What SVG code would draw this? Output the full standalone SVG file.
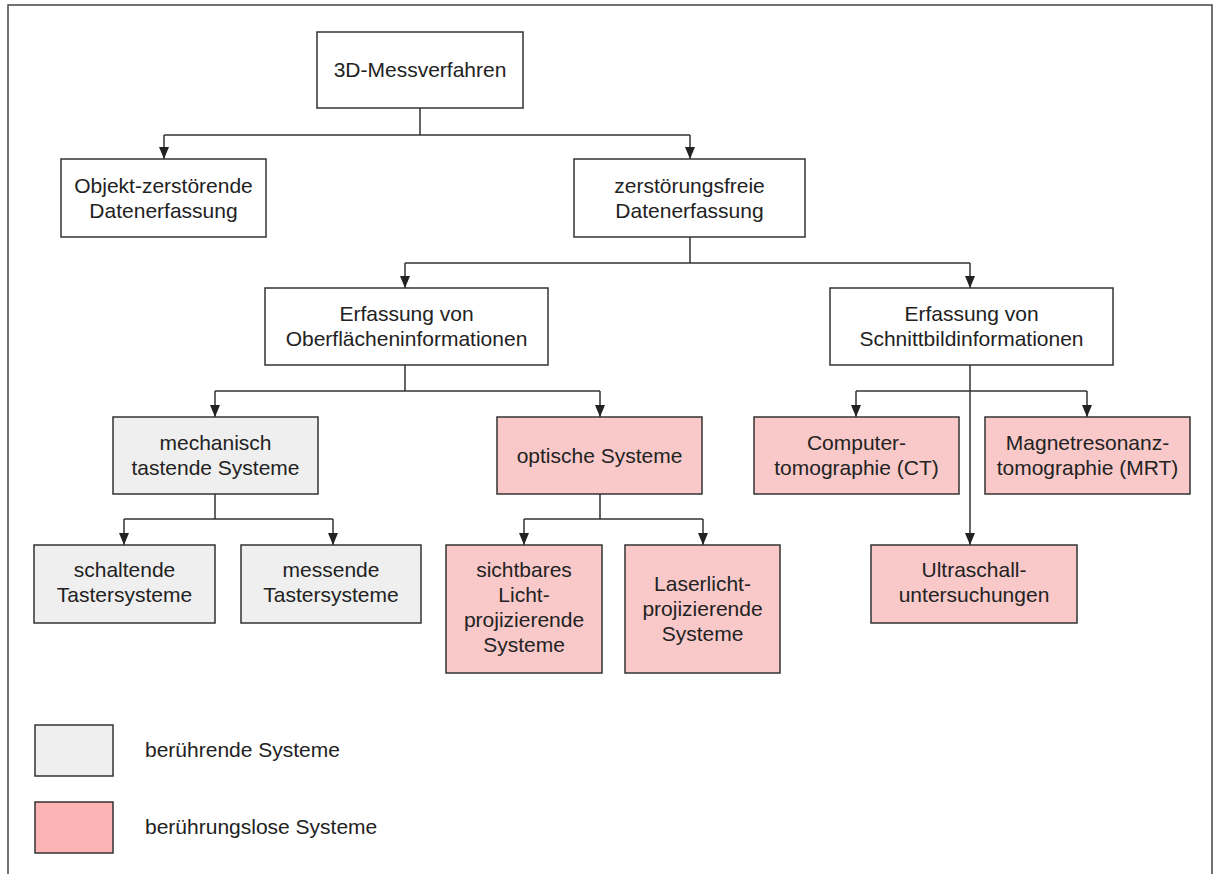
<svg xmlns="http://www.w3.org/2000/svg" width="1213" height="874" viewBox="0 0 1213 874">
<defs>
<style>
.box{stroke:#333;stroke-width:1.5}
.w{fill:#ffffff}
.g{fill:#efefef}
.p{fill:#f9c9c9}
.lp{fill:#fcb4b4}
text{font-family:"Liberation Sans",Arial,sans-serif;font-size:21px;fill:#222;text-anchor:middle}
.lt{text-anchor:start}
.c{fill:none;stroke:#333;stroke-width:1.5}
</style>
<marker id="ah" markerUnits="userSpaceOnUse" markerWidth="12" markerHeight="11" refX="12" refY="5.5" orient="auto">
<path d="M0,0.5 L12,5.5 L0,10.5 z" fill="#222"/>
</marker>
</defs>
<rect width="1213" height="874" fill="#ffffff"/>
<rect x="8" y="5" width="1204" height="880" fill="none" stroke="#444" stroke-width="1.5"/>

<g id="connectors">
<path class="c" d="M420,108 V135 M164,135 H690"/>
<path class="c" d="M164,135 V159" marker-end="url(#ah)"/>
<path class="c" d="M690,135 V159" marker-end="url(#ah)"/>
<path class="c" d="M690,237 V263 M405,263 H970"/>
<path class="c" d="M405,263 V288" marker-end="url(#ah)"/>
<path class="c" d="M970,263 V288" marker-end="url(#ah)"/>
<path class="c" d="M405,365 V391 M215,391 H600"/>
<path class="c" d="M215,391 V417" marker-end="url(#ah)"/>
<path class="c" d="M600,391 V417" marker-end="url(#ah)"/>
<path class="c" d="M970,365 V545" marker-end="url(#ah)"/>
<path class="c" d="M856,391 H1087"/>
<path class="c" d="M856,391 V417" marker-end="url(#ah)"/>
<path class="c" d="M1087,391 V417" marker-end="url(#ah)"/>
<path class="c" d="M215,494 V519 M124,519 H333"/>
<path class="c" d="M124,519 V545" marker-end="url(#ah)"/>
<path class="c" d="M333,519 V545" marker-end="url(#ah)"/>
<path class="c" d="M600,494 V519 M524,519 H703"/>
<path class="c" d="M524,519 V545" marker-end="url(#ah)"/>
<path class="c" d="M703,519 V545" marker-end="url(#ah)"/>
</g>

<g id="n-3d">
<rect class="box w" x="317" y="32" width="206" height="76"/>
<text x="420" y="77">3D-Messverfahren</text>
</g>
<g id="n-objekt">
<rect class="box w" x="61" y="159" width="205" height="78"/>
<text x="163.5" y="193">Objekt-zerstörende</text>
<text x="163.5" y="218">Datenerfassung</text>
</g>
<g id="n-zfrei">
<rect class="box w" x="574" y="159" width="231" height="78"/>
<text x="689.5" y="193">zerstörungsfreie</text>
<text x="689.5" y="218">Datenerfassung</text>
</g>
<g id="n-oberfl">
<rect class="box w" x="265" y="288" width="283" height="77"/>
<text x="406.5" y="321">Erfassung von</text>
<text x="406.5" y="346">Oberflächeninformationen</text>
</g>
<g id="n-schnitt">
<rect class="box w" x="830" y="288" width="283" height="77"/>
<text x="971.5" y="321">Erfassung von</text>
<text x="971.5" y="346">Schnittbildinformationen</text>
</g>
<g id="n-mech">
<rect class="box g" x="113" y="417" width="205" height="77"/>
<text x="215.5" y="450">mechanisch</text>
<text x="215.5" y="475">tastende Systeme</text>
</g>
<g id="n-opt">
<rect class="box p" x="497" y="417" width="205" height="77"/>
<text x="599.5" y="463">optische Systeme</text>
</g>
<g id="n-ct">
<rect class="box p" x="754" y="417" width="205" height="77"/>
<text x="856.5" y="450">Computer-</text>
<text x="856.5" y="475">tomographie (CT)</text>
</g>
<g id="n-mrt">
<rect class="box p" x="985" y="417" width="205" height="77"/>
<text x="1087.5" y="450">Magnetresonanz-</text>
<text x="1087.5" y="475">tomographie (MRT)</text>
</g>
<g id="n-schalt">
<rect class="box g" x="34" y="545" width="181" height="78"/>
<text x="124.5" y="577">schaltende</text>
<text x="124.5" y="602">Tastersysteme</text>
</g>
<g id="n-mess">
<rect class="box g" x="241" y="545" width="180" height="78"/>
<text x="331" y="577">messende</text>
<text x="331" y="602">Tastersysteme</text>
</g>
<g id="n-sicht">
<rect class="box p" x="446" y="545" width="156" height="128"/>
<text x="524" y="577">sichtbares</text>
<text x="524" y="602">Licht-</text>
<text x="524" y="627">projizierende</text>
<text x="524" y="652">Systeme</text>
</g>
<g id="n-laser">
<rect class="box p" x="625" y="545" width="155" height="128"/>
<text x="702.5" y="591">Laserlicht-</text>
<text x="702.5" y="616">projizierende</text>
<text x="702.5" y="641">Systeme</text>
</g>
<g id="n-ultra">
<rect class="box p" x="871" y="545" width="206" height="78"/>
<text x="974" y="577">Ultraschall-</text>
<text x="974" y="602">untersuchungen</text>
</g>

<g id="legend">
<rect class="box g" x="35" y="725" width="78" height="51"/>
<text class="lt" x="145" y="757">berührende Systeme</text>
<rect class="box lp" x="35" y="802" width="78" height="51"/>
<text class="lt" x="145" y="834">berührungslose Systeme</text>
</g>
</svg>
